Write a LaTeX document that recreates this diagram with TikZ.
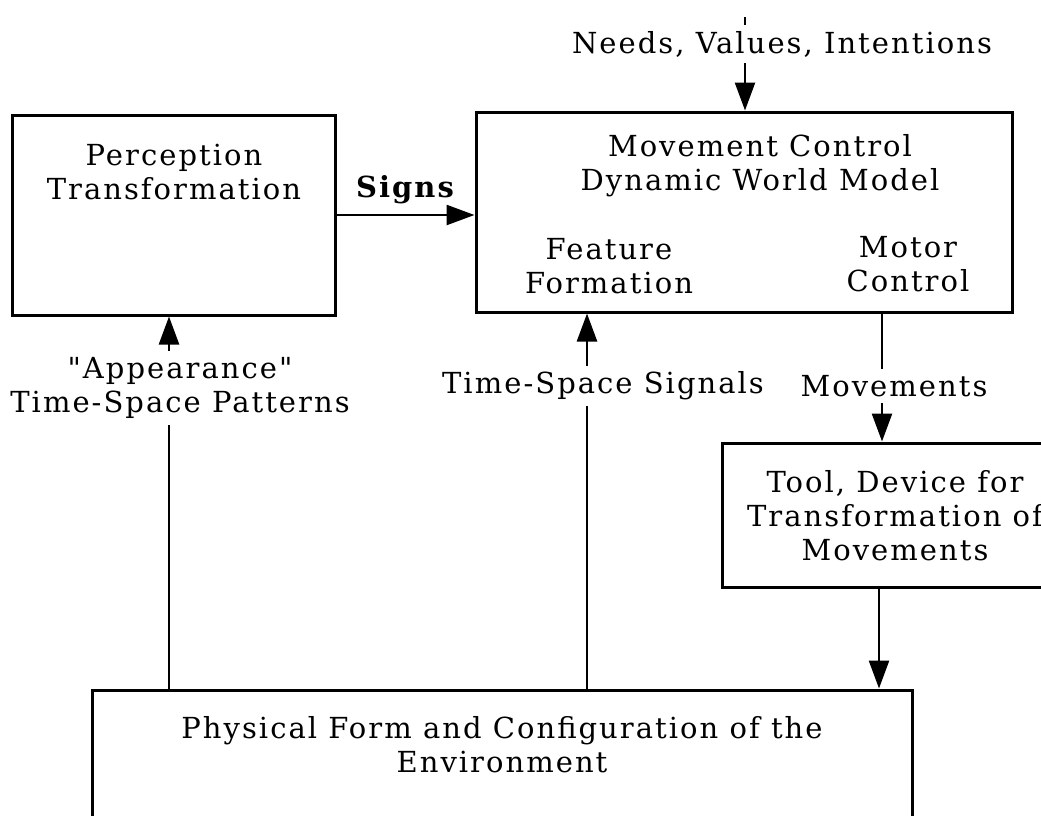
\documentclass[tikz,border=0pt]{standalone}
\usepackage{fontspec}
\setmainfont{DejaVu Serif}[LetterSpace=7, Ligatures=TeXOff]
\usetikzlibrary{arrows.meta,positioning}
\tikzset{
  box/.style={draw, line width=3pt, inner sep=0pt},
  txt/.style={align=center, font=\fontsize{29}{34}\selectfont, inner sep=0pt},
  lbl/.style={txt, fill=white, inner ysep=6pt, inner xsep=3pt},
  link/.style={line width=2.5pt, -{Triangle[length=28pt,width=20pt]}},
}
\begin{document}
\begin{tikzpicture}[x=1pt,y=-1pt]
  \clip (0,0) rectangle (1041,815);
  % boxes
  \node[box, minimum width=323pt, minimum height=200pt] (perc) at (173.5,215) {};
  \node[box, minimum width=536pt, minimum height=200pt] (mcw) at (744,212) {};
  \node[box, minimum width=348pt, minimum height=144pt] (tool) at (896,515) {};
  \node[box, minimum width=820pt, minimum height=220pt] (env) at (502,800) {};
  % texts in the boxes
  \node[txt] (perctxt) at (174,172) {Perception\\Transformation};
  \node[txt] (mcwtxt) at (760,166) {Movement Control\\Dynamic World Model};
  \node[txt] (feat) at (609,266) {Feature\\Formation};
  \node[txt] (motor) at (908,264) {Motor\\Control};
  \node[txt] (tooltxt) at (895,516) {Tool, Device for\\Transformation of\\Movements};
  \node[txt] (envtxt) at (502,745) {Physical Form and Configuration of the\\Environment};
  % connectors
  \coordinate (needs) at (745,17);
  \draw[link] (needs) -- (needs |- mcw.north);
  \draw[link] (perc.east) -- (perc.east -| mcw.west);
  \coordinate (mot) at (882,0);
  \draw[link] (mot |- mcw.south) -- (mot |- tool.north);
  \coordinate (out) at (879,0);
  \draw[link] (out |- tool.south) -- (out |- env.north);
  \coordinate (pat) at (169,0);
  \draw[link] (pat |- env.north) -- (pat |- perc.south);
  \coordinate (sig) at (587,0);
  \draw[link] (sig |- env.north) -- (sig |- mcw.south);
  % labels on the connectors
  \node[txt] (signs) at (406,190) {\textbf{Signs}};
  \node[lbl] (needstxt) at (782,44) {Needs, Values, Intentions};
  \node[lbl] (appear) at (180,388) {"Appearance"\\Time-Space Patterns};
  \node[lbl] (signals) at (603,386) {Time-Space Signals};
  \node[lbl] (moves) at (894,386) {Movements};
\end{tikzpicture}
\end{document}
